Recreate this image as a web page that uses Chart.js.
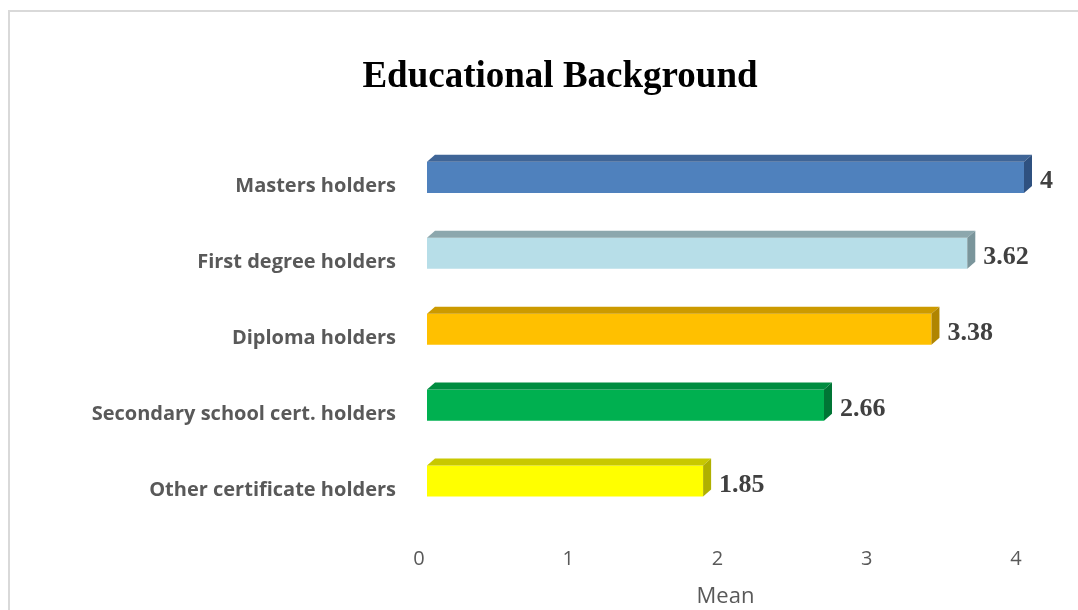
<!DOCTYPE html>
<html lang="en">
<head>
  <meta charset="UTF-8" />
  <title>Educational Background</title>
  <script src="https://cdn.jsdelivr.net/npm/chart.js"></script>
  <style>
    body {
      margin: 0;
      background: #fff;
      overflow: hidden;
      width: 1078px;
      height: 610px;
      position: relative;
    }
    .frame {
      position: absolute;
      left: 8px;
      top: 10px;
      width: 1200px;
      height: 700px;
      border: 2px solid #d9d9d9;
    }
    canvas {
      position: absolute;
      left: 0;
      top: 0;
    }
  </style>
</head>
<body>
  <div class="frame"></div>
  <canvas id="eduChart" width="1120" height="610"></canvas>

  <script>
    const categories = [
      'Masters holders',
      'First degree holders',
      'Diploma holders',
      'Secondary school cert. holders',
      'Other certificate holders'
    ];
    const means = [4, 3.62, 3.38, 2.66, 1.85];
    const xTicks = [0, 1, 2, 3, 4];

    // front, top, side shades per bar
    const frontColors = ['#4f81bd', '#b7dee8', '#ffc000', '#00b050', '#ffff00'];
    const topColors = ['#3f6597', '#8ca7ad', '#cc9a00', '#008c40', '#c8c800'];
    const sideColors = ['#2f5180', '#7a959b', '#b08500', '#007535', '#b0b000'];

    const DX = 8, DY = 7;

    // draws the 3D top/side faces and the value labels
    const bars3d = {
      id: 'bars3d',
      afterDatasetsDraw(chart) {
        const ctx = chart.ctx;
        const meta = chart.getDatasetMeta(0);
        ctx.save();
        meta.data.forEach((bar, i) => {
          const p = bar.getProps(['x', 'y', 'base', 'height'], true);
          const top = p.y - p.height / 2;
          const bottom = p.y + p.height / 2;

          ctx.fillStyle = topColors[i];
          ctx.beginPath();
          ctx.moveTo(p.base, top);
          ctx.lineTo(p.base + DX, top - DY);
          ctx.lineTo(p.x + DX, top - DY);
          ctx.lineTo(p.x, top);
          ctx.closePath();
          ctx.fill();

          ctx.fillStyle = sideColors[i];
          ctx.beginPath();
          ctx.moveTo(p.x, top);
          ctx.lineTo(p.x + DX, top - DY);
          ctx.lineTo(p.x + DX, bottom - DY);
          ctx.lineTo(p.x, bottom);
          ctx.closePath();
          ctx.fill();

          ctx.fillStyle = '#404040';
          ctx.font = 'bold 26px "Liberation Serif", "Times New Roman", serif';
          ctx.textAlign = 'left';
          ctx.textBaseline = 'middle';
          ctx.fillText(String(means[i]), p.x + DX + 8, p.y + 4);
        });
        ctx.restore();
      }
    };

    // centre the title on the whole frame, not the padded area
    const wideTitle = {
      id: 'wideTitle',
      afterLayout(chart) {
        const t = chart.titleBlock;
        if (t) {
          t.left = 0;
          t.right = chart.width;
          t.width = chart.width;
        }
      }
    };

    new Chart(document.getElementById('eduChart'), {
      type: 'bar',
      data: {
        labels: categories,
        datasets: [{
          data: means,
          backgroundColor: frontColors,
          borderWidth: 0,
          categoryPercentage: 1,
          barPercentage: 0.41
        }]
      },
      plugins: [bars3d, wideTitle],
      options: {
        indexAxis: 'y',
        responsive: false,
        animation: false,
        layout: { padding: { left: 0, right: 96, top: 0, bottom: 0 } },
        plugins: {
          legend: { display: false },
          tooltip: { enabled: false },
          title: {
            display: true,
            text: 'Educational Background',
            color: '#000',
            font: { family: '"Liberation Serif", "Times New Roman", serif', size: 37, weight: 'bold' },
            padding: { top: 55, bottom: 40 }
          }
        },
        scales: {
          x: {
            min: 0,
            max: 4,
            afterBuildTicks: s => { s.ticks = xTicks.map(v => ({ value: v })); },
            afterFit: s => { s.height = 91; },
            grid: { display: false },
            border: { display: false },
            ticks: {
              color: '#595959',
              font: { family: '"Open Sans", sans-serif', size: 20 },
              padding: 20,
              labelOffset: -8,
              maxRotation: 0
            },
            title: {
              display: true,
              text: 'Mean',
              color: '#595959',
              font: { family: '"Open Sans", sans-serif', size: 22 },
              padding: { top: 0, bottom: 0 }
            }
          },
          y: {
            afterFit: s => { s.width = 427; },
            grid: { display: false },
            border: { display: false },
            ticks: {
              color: '#595959',
              font: { family: '"Open Sans", sans-serif', size: 20, weight: 'bold' },
              padding: 23,
              labelOffset: 9
            }
          }
        }
      }
    });
  </script>
</body>
</html>
